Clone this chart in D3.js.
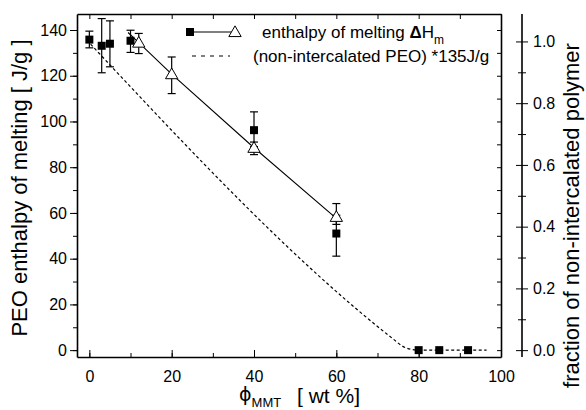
<!DOCTYPE html>
<html>
<head>
<meta charset="utf-8">
<script src="https://cdn.jsdelivr.net/npm/d3@7"></script>
<style>
  body { margin:0; background:#fff; }
  svg { font-family: "Liberation Sans", Arial, sans-serif; }
  .axis path, .axis line { stroke:#000; }
  .axis text { font-size:16px; fill:#000; }
</style>
</head>
<body>
<svg></svg>
<script>

// measured points (filled squares) with error bars
var sqX  = [0, 3, 5, 10, 40, 60, 80, 85, 92];
var sqY  = [135.8, 133.1, 134, 135.3, 96.2, 51, 0, 0, 0];
var sqLo = [132.2, 121.3, 123.9, 130.2, 89, 41.1, null, null, null];
var sqHi = [139.5, 145, 144, 139.9, 104.2, 59, null, null, null];

// open triangles with error bars
var triX  = [12, 20, 40, 60];
var triY  = [134.5, 120.7, 88.5, 58.3];
var triLo = [129.7, 112.2, 85.5, 55];
var triHi = [138.5, 128.2, 91, 64.1];

// solid line through the triangles
var lineX = [9.4, 12, 20, 40, 60];
var lineY = [138.9, 134.5, 120.7, 88.5, 57.6];

// dashed line : non-intercalated PEO * 135 J/g
var dashX = [0.3, 74, 76, 78, 80, 96.5];
var dashY = [133.8, 4.6, 1.8, 0.4, 0, 0];

var xTicks = [0, 20, 40, 60, 80, 100];
var yTicks = [0, 20, 40, 60, 80, 100, 120, 140];
var rTicks = [0, 0.2, 0.4, 0.6, 0.8, 1.0];

var screen = { width:586, height:410 };
var margins = { top:14, left:77, bottom:53, right:85 };
var width = screen.width - margins.left - margins.right;
var height = screen.height - margins.top - margins.bottom;

var svg = d3.select("svg").attr("width", screen.width).attr("height", screen.height);

var xScale = d3.scaleLinear().domain([-3, 100]).range([margins.left, margins.left + width]);
var yScale = d3.scaleLinear().domain([-3, 147]).range([margins.top + height, margins.top]);
var rScale = d3.scaleLinear().domain([0, 1]).range([yScale(0), yScale(135)]);

var bottomY = margins.top + height;
var rightX = margins.left + width;

//minor ticks
var xMinor = d3.range(0, 101, 10);
var yMinor = d3.range(0, 141, 10);

// bottom axis, ticks pointing in
svg.append("g").attr("class","axis")
  .attr("transform","translate(0,"+bottomY+")")
  .call(d3.axisBottom(xScale).tickValues(xMinor).tickSize(-4).tickFormat(""))
  .call(function(g){ g.select(".domain").remove(); });
svg.append("g").attr("class","axis")
  .attr("transform","translate(0,"+bottomY+")")
  .call(d3.axisBottom(xScale).tickValues(xTicks).tickSizeInner(-7).tickSizeOuter(0).tickPadding(14))
  .call(function(g){ g.select(".domain").attr("stroke-width",1.6); });

// top axis, ticks pointing in
svg.append("g").attr("class","axis")
  .attr("transform","translate(0,"+margins.top+")")
  .call(d3.axisTop(xScale).tickValues(xMinor).tickSizeInner(-5).tickSizeOuter(0).tickFormat(""))
  .call(function(g){ g.select(".domain").attr("stroke-width",1.6); });

// left axis, ticks pointing out
svg.append("g").attr("class","axis")
  .attr("transform","translate("+margins.left+",0)")
  .call(d3.axisLeft(yScale).tickValues(yMinor).tickSize(4).tickFormat(""))
  .call(function(g){ g.select(".domain").remove(); });
svg.append("g").attr("class","axis")
  .attr("transform","translate("+margins.left+",0)")
  .call(d3.axisLeft(yScale).tickValues(yTicks).tickSizeInner(7).tickSizeOuter(0).tickPadding(3))
  .call(function(g){ g.select(".domain").attr("stroke-width",1.6); });

// right border, ticks pointing in
svg.append("g").attr("class","axis")
  .attr("transform","translate("+rightX+",0)")
  .call(d3.axisRight(yScale).tickValues(yMinor).tickSizeInner(-4).tickSizeOuter(0).tickFormat(""))
  .call(function(g){ g.select(".domain").attr("stroke-width",1.6); });

// separate right axis for the fraction
var rX = 522;
var rMinor = d3.range(0.1, 1.01, 0.2);
svg.append("line").attr("x1",rX).attr("x2",rX).attr("y1",margins.top).attr("y2",bottomY)
  .attr("stroke","#000").attr("stroke-width",1.6);
svg.append("g").attr("class","axis")
  .attr("transform","translate("+rX+",0)")
  .call(d3.axisRight(rScale).tickValues(rTicks).tickSize(6).tickPadding(5).tickFormat(d3.format(".1f")))
  .call(function(g){ g.select(".domain").remove(); });
svg.append("g").attr("class","axis")
  .attr("transform","translate("+rX+",0)")
  .call(d3.axisLeft(rScale).tickValues(rTicks).tickSize(6).tickFormat(""))
  .call(function(g){ g.select(".domain").remove(); });
svg.append("g").attr("class","axis")
  .attr("transform","translate("+rX+",0)")
  .call(d3.axisRight(rScale).tickValues(rMinor).tickSize(4).tickFormat(""))
  .call(function(g){ g.select(".domain").remove(); });
svg.append("g").attr("class","axis")
  .attr("transform","translate("+rX+",0)")
  .call(d3.axisLeft(rScale).tickValues(rMinor).tickSize(4).tickFormat(""))
  .call(function(g){ g.select(".domain").remove(); });

var plot = svg.append("g").attr("id","plot");

// dashed line
var dashLine = d3.line().x(function(d){return xScale(d[0]);}).y(function(d){return yScale(d[1]);})
  .curve(d3.curveMonotoneX);
plot.append("path").datum(d3.zip(dashX, dashY))
  .attr("d", dashLine).attr("fill","none").attr("stroke","#000").attr("stroke-width",1.2)
  .attr("stroke-dasharray","3,2.5");

// solid line
var solidLine = d3.line().x(function(d){return xScale(d[0]);}).y(function(d){return yScale(d[1]);});
plot.append("path").datum(d3.zip(lineX, lineY))
  .attr("d", solidLine).attr("fill","none").attr("stroke","#000").attr("stroke-width",1.1);

// error bars
function errorBars(xs, lo, hi) {
  var data = d3.range(xs.length).filter(function(i){ return lo[i] != null; })
    .map(function(i){ return {x:xs[i], lo:lo[i], hi:hi[i]}; });
  var g = plot.append("g").attr("stroke","#000").attr("stroke-width",1.2);
  g.selectAll(".v").data(data).enter().append("line")
    .attr("x1",function(d){return xScale(d.x);}).attr("x2",function(d){return xScale(d.x);})
    .attr("y1",function(d){return yScale(d.lo);}).attr("y2",function(d){return yScale(d.hi);});
  g.selectAll(".lo").data(data).enter().append("line")
    .attr("x1",function(d){return xScale(d.x)-4;}).attr("x2",function(d){return xScale(d.x)+4;})
    .attr("y1",function(d){return yScale(d.lo);}).attr("y2",function(d){return yScale(d.lo);});
  g.selectAll(".hi").data(data).enter().append("line")
    .attr("x1",function(d){return xScale(d.x)-4;}).attr("x2",function(d){return xScale(d.x)+4;})
    .attr("y1",function(d){return yScale(d.hi);}).attr("y2",function(d){return yScale(d.hi);});
}
errorBars(sqX, sqLo, sqHi);
errorBars(triX, triLo, triHi);

var sqSym = d3.symbol().type(d3.symbolSquare).size(64);
var triSym = d3.symbol().type(d3.symbolTriangle).size(66);

plot.selectAll(".sq").data(d3.zip(sqX, sqY)).enter().append("path")
  .attr("d", sqSym)
  .attr("transform", function(d){ return "translate("+xScale(d[0])+","+yScale(d[1])+")"; })
  .attr("fill","#000");

plot.selectAll(".tri").data(d3.zip(triX, triY)).enter().append("path")
  .attr("d", triSym)
  .attr("transform", function(d){ return "translate("+xScale(d[0])+","+(yScale(d[1])+1)+")"; })
  .attr("fill","#fff").attr("stroke","#000").attr("stroke-width",1);

// legend
var leg = svg.append("g");
leg.append("line").attr("x1",190).attr("x2",235).attr("y1",32).attr("y2",32)
  .attr("stroke","#000").attr("stroke-width",1.1);
leg.append("path").attr("d",sqSym).attr("transform","translate(190,32)").attr("fill","#000");
leg.append("path").attr("d",triSym).attr("transform","translate(235,33)")
  .attr("fill","#fff").attr("stroke","#000");
leg.append("line").attr("x1",192).attr("x2",230).attr("y1",56).attr("y2",56)
  .attr("stroke","#000").attr("stroke-width",1.2).attr("stroke-dasharray","4,5");

var t1 = leg.append("text").attr("x",262).attr("y",38).attr("font-size",17);
t1.append("tspan").text("enthalpy of melting  ");
t1.append("tspan").attr("font-weight","bold").text("Δ");
t1.append("tspan").text("H");
t1.append("tspan").attr("font-size",12).attr("dy",6).text("m");
leg.append("text").attr("x",253).attr("y",62).attr("font-size",17)
  .text("(non-intercalated PEO) *135J/g");

// axis titles
svg.append("text").attr("transform","translate(27,188) rotate(-90)")
  .attr("text-anchor","middle").attr("font-size",22)
  .text("PEO enthalpy of melting [ J/g ]");
svg.append("text").attr("transform","translate(579,"+(margins.top+height/2+30)+") rotate(-90)")
  .attr("text-anchor","middle").attr("font-size",22)
  .text("fraction of non-intercalated polymer");

var xl = svg.append("text").attr("y",401).attr("font-size",19);
xl.append("tspan").attr("x",239).attr("font-family","DejaVu Sans").text("ϕ");
xl.append("tspan").attr("font-size",13).attr("dy",6).text("MMT");
svg.append("text").attr("x",297).attr("y",403).attr("font-size",21).text("[ wt %]");

</script>
</body>
</html>
